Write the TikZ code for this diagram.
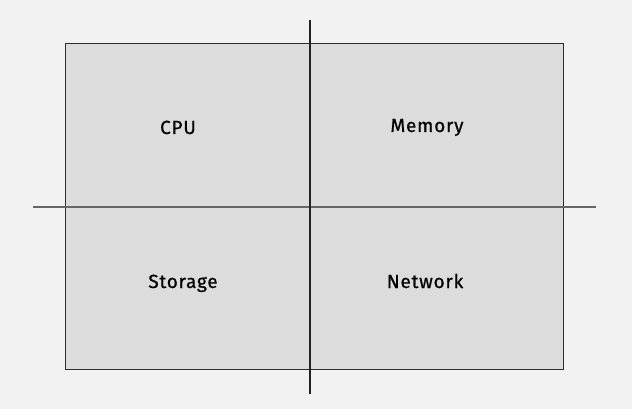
\documentclass[tikz,border=0pt]{standalone}
\usepackage{fontspec}
\setmainfont{Fira Sans}[LetterSpace=4, FakeBold=0.6]
\definecolor{bg}{HTML}{F2F2F2}
\definecolor{boxfill}{HTML}{DCDCDC}
\definecolor{boxline}{HTML}{2E2E2E}
\definecolor{hline}{HTML}{666666}
\definecolor{vline}{HTML}{222222}
\begin{document}
\begin{tikzpicture}[x=1pt,y=-1pt,
  label/.style={font=\fontsize{19}{21}\selectfont, text=black, inner sep=0pt, anchor=base}]
\fill[bg] (0,0) rectangle (632,409);
\useasboundingbox (0,0) rectangle (632,409);
\draw[boxline, fill=boxfill, line width=1.4pt] (65.5,43.5) rectangle (563.5,369.5);
\draw[hline, line width=1.4pt] (33,207) -- (596,207);
\draw[vline, line width=1.2pt] (310,20) -- (310,394);
\node[label] (cpu) at (178,134) {CPU};
\node[label] (mem) at (427,132) {Memory};
\node[label] (sto) at (183,288) {Storage};
\node[label] (net) at (425,288) {Network};
\end{tikzpicture}
\end{document}
